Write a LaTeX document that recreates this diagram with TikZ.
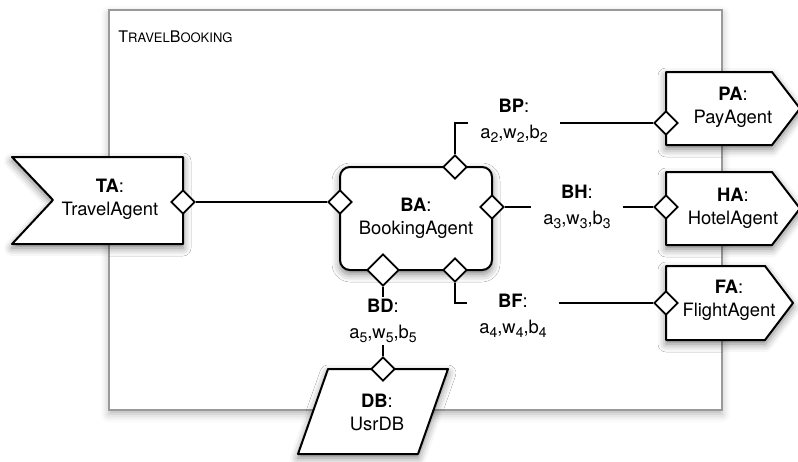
\documentclass[tikz,border=0pt]{standalone}
\usepackage{fontspec}
\setmainfont{TeX Gyre Heros}
\usetikzlibrary{shapes.geometric,shadows.blur}

\newcommand{\idx}[1]{\raisebox{-2.2pt}{\fontsize{7}{8}\selectfont #1}}
\newcommand{\portvars}[1]{a\idx{#1},w\idx{#1},b\idx{#1}}

\tikzset{
  agent/.style={draw, line width=1pt, fill=white, line join=round,
    blur shadow={shadow xshift=0pt, shadow yshift=-2pt, shadow blur radius=4pt, shadow opacity=50}},
  agentname/.style={align=center, font=\fontsize{9.2}{11.5}\selectfont},
  port/.style={diamond, draw, fill=white, line width=0.9pt, inner sep=0pt, minimum size=12pt},
  lbl/.style={align=center, inner xsep=6pt, inner ysep=1pt, font=\fontsize{9.2}{13}\selectfont},
  conn/.style={line width=0.65pt},
}

\begin{document}
\begin{tikzpicture}[x=0.5pt, y=-0.5pt]
    \useasboundingbox (0,0) rectangle (798,461);

    % composite frame
    \draw[black!40, line width=0.8pt, fill=white,
      blur shadow={shadow xshift=0pt, shadow yshift=-2pt, shadow blur radius=4pt, shadow opacity=30}]
      (109,10) rectangle (722,410);
    \node[anchor=base west, inner sep=0pt, font=\fontsize{8}{9}\selectfont] (TB) at (118,42)
      {T{\fontsize{6.5}{8}\selectfont RAVEL}B{\fontsize{6.5}{8}\selectfont OOKING}};

    % agents
    \draw[agent] (12,157) -- (183,157) -- (183,244) -- (12,244) -- (53,200) -- cycle;
    \node[agentname] (TA) at (110,199) {\textbf{TA}:\\TravelAgent};

    \node[agent, agentname, rounded corners=5pt, minimum width=76pt, minimum height=51.5pt]
      (BA) at (416,218.5) {\textbf{BA}:\\BookingAgent};

    \draw[agent] (666,72) -- (772,72) -- (800,108.5) -- (772,145) -- (666,145) -- cycle;
    \node[agentname] (PA) at (733,107.5) {\textbf{PA}:\\PayAgent};

    \draw[agent] (666,172) -- (772,172) -- (800,208.5) -- (772,245) -- (666,245) -- cycle;
    \node[agentname] (HA) at (733,208) {\textbf{HA}:\\HotelAgent};

    \draw[agent] (666,266) -- (765,266) -- (793,303) -- (765,340) -- (666,340) -- cycle;
    \node[agentname] (FA) at (729,300) {\textbf{FA}:\\FlightAgent};

    \draw[agent] (328,369) -- (448,369) -- (418,454) -- (298,454) -- cycle;
    \node[agentname] (DB) at (377,412) {\textbf{DB}:\\UsrDB};

    % ports
    \node[port] (TAp) at (183,202) {};
    \node[port] (BAw) at (340,202) {};
    \node[port] (BAn) at (455,167) {};
    \node[port] (BAe) at (492,207) {};
    \node[port, minimum size=16pt] (BAsw) at (383,270) {};
    \node[port] (BAse) at (455,270) {};
    \node[port] (PAp) at (666,123) {};
    \node[port] (HAp) at (666,207) {};
    \node[port] (FAp) at (666,303) {};
    \node[port] (DBp) at (383,369) {};

    % bindings
    \node[lbl] (BP) at (514,121) {\textbf{BP}:\\\portvars{2}};
    \node[lbl] (BH) at (577,207) {\textbf{BH}:\\\portvars{3}};
    \node[lbl] (BF) at (513,316) {\textbf{BF}:\\\portvars{4}};
    \node[lbl] (BD) at (383,321) {\textbf{BD}:\\\portvars{5}};

    \draw[conn] (TAp) -- (BAw);
    \draw[conn] (BAn) |- (BP.west |- PAp);
    \draw[conn] (BP.east |- PAp) -- (PAp);
    \draw[conn] (BAe) -- (BH.west |- HAp);
    \draw[conn] (BH.east |- HAp) -- (HAp);
    \draw[conn] (BAse) |- (BF.west |- FAp);
    \draw[conn] (BF.east |- FAp) -- (FAp);
    \draw[conn] (BAsw) -- (BD);
    \draw[conn] (BD) -- (DBp);
\end{tikzpicture}
\end{document}
